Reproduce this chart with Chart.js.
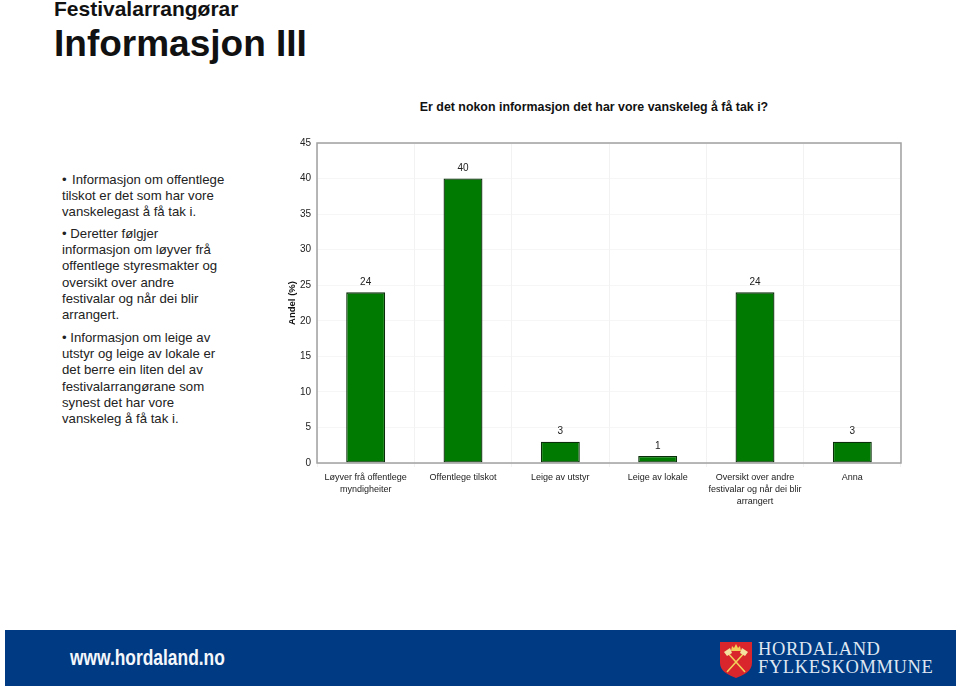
<!DOCTYPE html>
<html lang="nn">
<head>
<meta charset="utf-8">
<title>Informasjon III</title>
<script src="https://cdn.jsdelivr.net/npm/chart.js@4"></script>
<style>
  html, body { margin: 0; padding: 0; background: #fff; }
  body { position: relative; width: 960px; height: 688px; overflow: hidden; font-family: "Liberation Sans", Arial, sans-serif; color: #111; }
  canvas { position: absolute; left: 0; top: 0; }
  .abs { position: absolute; white-space: nowrap; }
  .heading { left: 54px; top: -3px; font-size: 21px; font-weight: bold; line-height: 24px; }
  .title { left: 54px; top: 22px; font-size: 37px; font-weight: bold; line-height: 44px; }
  .question { left: 294px; width: 600px; top: 99px; text-align: center; font-size: 12.4px; font-weight: bold; line-height: 16px; }
  .para { left: 62px; font-size: 13.2px; line-height: 16.2px; color: #222; }
  .lead { display: inline-block; width: 10px; }
  .banner { left: 5px; top: 630px; width: 951px; height: 56px; background: #003a82; }
  .url { left: 70px; top: 645px; font-size: 22px; font-weight: bold; line-height: 26px; color: #f4f7fb; transform: scaleX(0.79); transform-origin: left top; }
  .org { left: 758px; font-family: "Liberation Serif", serif; font-size: 18.5px; line-height: 19px; color: #dfe7f2; letter-spacing: 0.6px; }
  .shield { position: absolute; left: 720px; top: 641px; }
</style>
</head>
<body>
<div class="abs heading">Festivalarrangørar</div>
<div class="abs title">Informasjon III</div>
<div class="abs question">Er det nokon informasjon det har vore vanskeleg å få tak i?</div>

<div class="abs para" style="top:172px"><span class="lead">•</span>Informasjon om offentlege<br>tilskot er det som har vore<br>vanskelegast å få tak i.</div>
<div class="abs para" style="top:226px">• Deretter følgjer<br>informasjon om løyver frå<br>offentlege styresmakter og<br>oversikt over andre<br>festivalar og når dei blir<br>arrangert.</div>
<div class="abs para" style="top:330px">• Informasjon om leige av<br>utstyr og leige av lokale er<br>det berre ein liten del av<br>festivalarrangørane som<br>synest det har vore<br>vanskeleg å få tak i.</div>

<canvas id="chart" width="960" height="688"></canvas>

<div class="abs banner"></div>
<div class="abs url">www.hordaland.no</div>
<svg class="shield" width="32" height="38" viewBox="0 0 32 38">
  <path d="M0 1 H32 V22 C32 30 24 34 16 37 C8 34 0 30 0 22 Z" fill="#d8262c"/>
  <path d="M7 11 L25 31 M25 11 L7 31" stroke="#f3cf5a" stroke-width="1.6" fill="none"/>
  <path d="M4 11 L10 7 L12 12 L7 15 Z M28 11 L22 7 L20 12 L25 15 Z" fill="#f3e2a0"/>
  <path d="M11 10 L12 5 L14 7 L16 3 L18 7 L20 5 L21 10 Z" fill="#f3cf5a"/>
</svg>
<div class="abs org" style="top:640px">HORDALAND</div>
<div class="abs org" style="top:658px">FYLKESKOMMUNE</div>

<script>
const categories = [
  ['Løyver frå offentlege', 'myndigheiter'],
  'Offentlege tilskot',
  'Leige av utstyr',
  'Leige av lokale',
  ['Oversikt over andre', 'festivalar og når dei blir', 'arrangert'],
  'Anna'
];
const shares = [24, 40, 3, 1, 24, 3];
const axisMax = 45;
const axisStep = 5;
const axisTitle = 'Andel (%)';

// value over each bar + the grey frame round the plot
const barLabels = {
  id: 'barLabels',
  afterDraw(chart) {
    const { ctx, chartArea } = chart;
    ctx.save();
    ctx.strokeStyle = '#a0a0a0';
    ctx.lineWidth = 1.5;
    ctx.strokeRect(chartArea.left, chartArea.top, chartArea.width, chartArea.height);
    ctx.font = '10px "Liberation Sans"';
    ctx.fillStyle = '#222';
    ctx.textAlign = 'center';
    ctx.textBaseline = 'middle';
    chart.getDatasetMeta(0).data.forEach((bar, i) => {
      ctx.fillText(shares[i], bar.x, bar.y - 10);
    });
    ctx.restore();
  }
};

new Chart(document.getElementById('chart'), {
  type: 'bar',
  data: {
    labels: categories,
    datasets: [{
      data: shares,
      backgroundColor: '#007a00',
      borderColor: '#0a2e0a',
      borderWidth: 1.3,
      borderSkipped: false,
      barPercentage: 0.4,
      categoryPercentage: 1
    }]
  },
  options: {
    responsive: false,
    animation: false,
    layout: { padding: { left: 287, top: 143, right: 59, bottom: 0 } },
    plugins: { legend: { display: false }, tooltip: { enabled: false } },
    scales: {
      y: {
        min: 0,
        max: axisMax,
        afterFit(scale) { scale.width = 30; },
        ticks: { stepSize: axisStep, color: '#222', padding: 6, font: { family: 'Liberation Sans', size: 10 } },
        grid: { color: '#f6f6f6', drawTicks: false },
        border: { display: false },
        title: {
          display: true,
          text: axisTitle,
          color: '#111',
          padding: 0,
          font: { family: 'Liberation Sans', size: 9.5, weight: 'bold' }
        }
      },
      x: {
        afterFit(scale) { scale.height = 225; },
        ticks: { color: '#222', padding: 5, maxRotation: 0, autoSkip: false, font: { family: 'Liberation Sans', size: 9, lineHeight: 1.3 } },
        grid: { color: '#f2f2f2', tickLength: 4 },
        border: { display: false }
      }
    }
  },
  plugins: [barLabels]
});
</script>
</body>
</html>
